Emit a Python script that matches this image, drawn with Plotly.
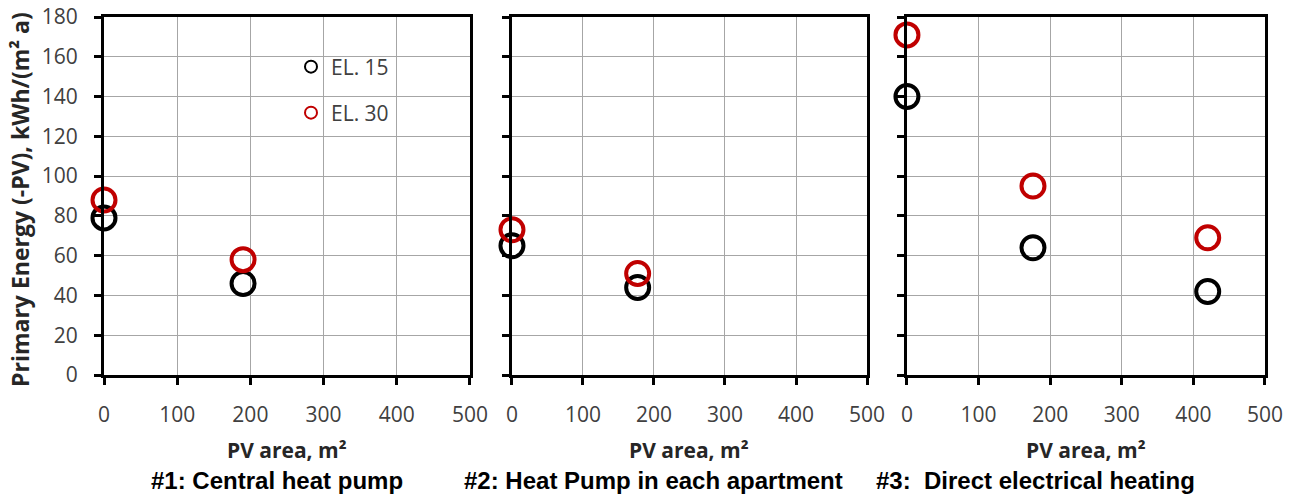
import plotly.graph_objects as go

# PV area (m²) and primary energy (-PV), kWh/(m² a), per heating system
pv_area_1 = [0, 190]
el15_1 = [79, 46]
el30_1 = [88, 58]

pv_area_2 = [0, 177]
el15_2 = [65, 44]
el30_2 = [73, 51]

pv_area_3 = [0, 176, 420]
el15_3 = [140, 64, 42]
el30_3 = [171, 95, 69]

panel_titles = ["#1: Central heat pump", "#2: Heat Pump in each apartment", "#3:  Direct electrical heating"]
series_names = ["EL. 15", "EL. 30"]
x_ticks = [0, 100, 200, 300, 400, 500]
y_ticks = [0, 20, 40, 60, 80, 100, 120, 140, 160, 180]

BLACK = "#000000"
RED = "#c00000"
GRID = "#a6a6a6"
LABEL = "#404040"
FONT = "'Open Sans', Lato, sans-serif"
TITLE_FONT = "'Liberation Sans', Arial, sans-serif"

W, H = 1295, 495
ML, MR, MT, MB = 104, 30, 17, 120
domains = [[0.0, 0.3152], [0.3514, 0.6572], [0.6916, 1.0]]

panels = [
    (pv_area_1, el15_1, el30_1),
    (pv_area_2, el15_2, el30_2),
    (pv_area_3, el15_3, el30_3),
]

fig = go.Figure()

for i, (xs, s15, s30) in enumerate(panels):
    xa = "x" if i == 0 else f"x{i + 1}"
    ya = "y" if i == 0 else f"y{i + 1}"
    for name, vals, col, leg in ((series_names[0], s15, BLACK, "legend"),
                                 (series_names[1], s30, RED, "legend2")):
        fig.add_trace(go.Scatter(
            x=xs, y=vals, mode="markers", name=name,
            xaxis=xa, yaxis=ya, legend=leg,
            showlegend=(i == 0), cliponaxis=False,
            marker=dict(symbol="circle-open", size=23, color=col,
                        line=dict(width=4, color=col)),
        ))

for i, dom in enumerate(domains):
    n = "" if i == 0 else str(i + 1)
    # main axes: frame, grid, outward ticks
    fig.update_layout(**{
        f"xaxis{n}": dict(
            domain=dom, range=[0, 500], anchor=f"y{n}", tickvals=x_ticks,
            showgrid=True, gridcolor=GRID, gridwidth=1, zeroline=False,
            showline=True, linecolor=BLACK, linewidth=3, mirror=True,
            ticks="outside", ticklen=7, tickwidth=3, tickcolor=BLACK,
            tickfont=dict(family=FONT, size=21, color=LABEL),
            ticklabelstandoff=12, fixedrange=True, automargin=False,
        ),
        f"yaxis{n}": dict(
            domain=[0, 1], range=[0, 180], anchor=f"x{n}", tickvals=y_ticks,
            showgrid=True, gridcolor=GRID, gridwidth=1, zeroline=False,
            showline=True, linecolor=BLACK, linewidth=3, mirror=True,
            ticks="outside", ticklen=7, tickwidth=3, tickcolor=BLACK,
            showticklabels=(i == 0),
            tickfont=dict(family=FONT, size=21, color=LABEL),
            ticklabelstandoff=12, fixedrange=True, automargin=False,
        ),
    })
    # overlay axes carrying the inward half of each crossing tick
    k = i + 4
    fig.update_layout(**{
        f"xaxis{k}": dict(
            domain=dom, range=[0, 500], overlaying=f"x{n}", anchor=f"y{n}",
            tickvals=x_ticks, showgrid=False, zeroline=False, showline=False,
            ticks="inside", ticklen=7, tickwidth=3, tickcolor=BLACK,
            showticklabels=False, fixedrange=True, automargin=False,
        ),
        f"yaxis{k}": dict(
            domain=[0, 1], range=[0, 180], overlaying=f"y{n}", anchor=f"x{n}",
            tickvals=y_ticks, showgrid=False, zeroline=False, showline=False,
            ticks="inside", ticklen=7, tickwidth=3, tickcolor=BLACK,
            showticklabels=False, fixedrange=True, automargin=False,
        ),
    })

annotations = []
plot_h = H - MT - MB
plot_w = W - ML - MR
for i, dom in enumerate(domains):
    n = "" if i == 0 else str(i + 1)
    annotations.append(dict(
        text="<b>PV area, m²</b>", xref=f"x{n} domain", yref="paper",
        x=0.5, y=(375 - 450) / plot_h, xanchor="center", yanchor="middle",
        showarrow=False, font=dict(family=FONT, size=21, color="#262626"),
    ))

title_centres = [277, 653, 1035]
for t, cx in zip(panel_titles, title_centres):
    annotations.append(dict(
        text=f"<b>{t}</b>", xref="paper", yref="paper",
        x=(cx - ML) / plot_w, y=(375 - 480) / plot_h,
        xanchor="center", yanchor="middle", showarrow=False,
        font=dict(family=TITLE_FONT, size=24, color=BLACK),
    ))

annotations.append(dict(
    text="<b>Primary Energy (-PV), kWh/(m² a)</b>", xref="paper", yref="paper",
    x=(20 - ML) / plot_w, y=(375 - 200) / plot_h, textangle=-90,
    xanchor="center", yanchor="middle", showarrow=False,
    font=dict(family=FONT, size=23, color="#262626"),
))

legend_common = dict(
    xanchor="left", yanchor="middle", bgcolor="rgba(0,0,0,0)",
    borderwidth=0, itemsizing="constant",
    font=dict(family=FONT, size=21, color=LABEL),
)

fig.update_layout(
    width=W, height=H,
    margin=dict(l=ML, r=MR, t=MT, b=MB, autoexpand=False),
    paper_bgcolor="white", plot_bgcolor="white",
    annotations=annotations,
    legend=dict(x=(291 - ML) / plot_w, y=(375 - 67) / plot_h, **legend_common),
    legend2=dict(x=(291 - ML) / plot_w, y=(375 - 113) / plot_h, **legend_common),
)

fig.write_html("out.html", config={"displayModeBar": False})
